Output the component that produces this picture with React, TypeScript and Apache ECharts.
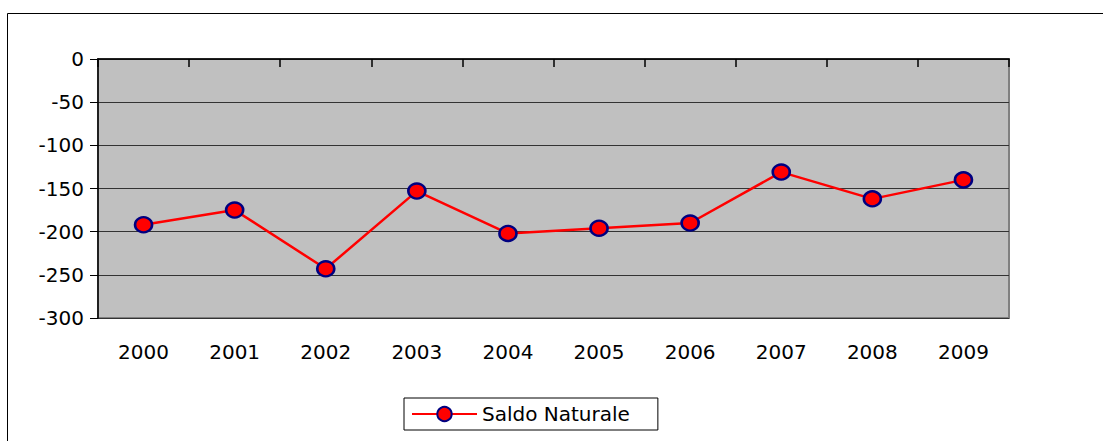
import React, { useEffect, useRef } from "react";
import * as echarts from "echarts";

const categories = ["2000", "2001", "2002", "2003", "2004", "2005", "2006", "2007", "2008", "2009"];
const saldoNaturale = [-192, -175, -243, -153, -202, -196, -190, -131, -162, -140];
const seriesName = "Saldo Naturale";
const yMin = -300;
const yMax = 0;
const yInterval = 50;

const FONT = "DejaVu Sans";

export default function App() {
  const ref = useRef<HTMLDivElement>(null);
  useEffect(() => {
    document.body.style.margin = "0";
    if (!ref.current) return;
    const chart = echarts.init(ref.current, null, { renderer: "svg" });
    chart.setOption({
      animation: false,
      backgroundColor: "#ffffff",
      textStyle: { fontFamily: FONT },
      graphic: [
        {
          type: "rect",
          z: -10,
          silent: true,
          shape: { x: 7.5, y: 13.5, width: 1300, height: 600 },
          style: { fill: "none", stroke: "#000", lineWidth: 1 },
        },
      ],
      grid: {
        left: 98,
        right: 94,
        top: 59,
        bottom: 123,
        show: true,
        backgroundColor: "#C0C0C0",
        borderColor: "#808080",
        borderWidth: 2,
      },
      legend: {
        left: 404,
        top: 398,
        data: [seriesName],
        itemWidth: 65,
        itemHeight: 18,
        itemGap: 5,
        padding: [6, 28, 6, 7],
        borderColor: "#000",
        borderWidth: 1,
        textStyle: { fontFamily: FONT, fontSize: 20, color: "#000" },
      },
      xAxis: [
        {
          type: "category",
          data: categories,
          position: "top",
          boundaryGap: true,
          axisLine: { show: true, onZero: false, lineStyle: { color: "#000", width: 1.5 } },
          axisTick: { show: true, inside: true, length: 8, lineStyle: { color: "#000", width: 1.5 } },
          axisLabel: { show: false },
          splitLine: { show: false },
        },
        {
          type: "category",
          data: categories,
          position: "bottom",
          boundaryGap: true,
          axisLine: { show: false, onZero: false },
          axisTick: { show: false },
          axisLabel: { show: true, margin: 24, fontFamily: FONT, fontSize: 20, color: "#000" },
          splitLine: { show: false },
        },
      ],
      yAxis: {
        type: "value",
        min: yMin,
        max: yMax,
        interval: yInterval,
        axisLine: { show: true, onZero: false, lineStyle: { color: "#000", width: 1.5 } },
        axisTick: { show: true, length: 8, lineStyle: { color: "#000" } },
        axisLabel: { margin: 14, fontFamily: FONT, fontSize: 20, color: "#000" },
        splitLine: { show: true, lineStyle: { color: "#333", width: 1 } },
      },
      series: [
        {
          name: seriesName,
          type: "line",
          xAxisIndex: 0,
          data: saldoNaturale,
          symbol: "circle",
          symbolSize: [17, 15],
          lineStyle: { color: "#FF0000", width: 2.5 },
          itemStyle: { color: "#FF0000", borderColor: "#000080", borderWidth: 2.5 },
        },
      ],
    });
    return () => chart.dispose();
  }, []);
  return <div ref={ref} style={{ width: 1103, height: 441 }} />;
}
